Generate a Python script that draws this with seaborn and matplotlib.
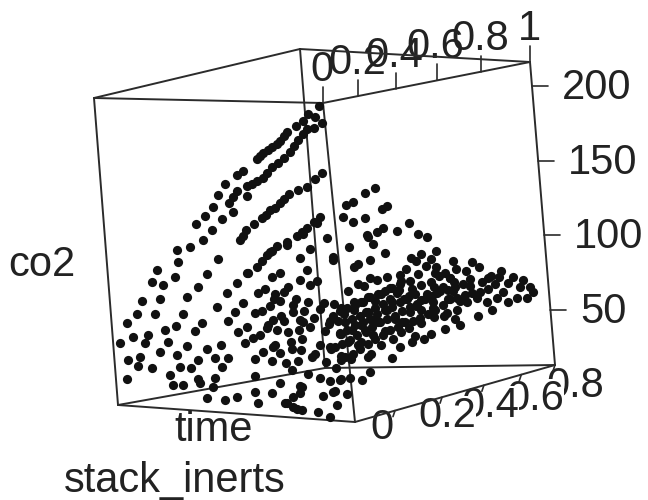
import numpy as np
import matplotlib
matplotlib.use("Agg")
import matplotlib.pyplot as plt
import pandas as pd
import seaborn as sns

# values, one pair of lists per level of the top axis
levels = [0, 0.12, 0.345, 0.647, 0.915, 1]

inerts_0 = [
    .52, .786, .694, .712, .813, .768, .574, .617, .397, .447, .494, .542,
    .862, .785, .668, .888, .811, .691, .43, .468, .5, .934, .913, .97,
    .848, .864, .774, .726, .613, .646, .686, .765, .803, .422, .463, .437,
    .54, .601, .57, .515, .644, .544, .732, .943, .89, .902, .843, .723,
    .677, .768, .76, .717, .651, .644, .578, .59, .619, .544, .492, .414,
    .405, .408, .341, .954, .29, .24, .222, .153, .105, .304, .219,
    .211, .253, .281, .258, .22, .126,
    .017, .069, .097, .169, .203, .24, .283, .312, .013, .08, .127, .165,
    .224, .272, .319, .365, .37, .376, .405, .46, .496, .43, .437, .489,
    .561, .6, .536, .578, .637, .694,
    .034, .105, .186, .232, .278, .312, .386, .42, .063, .122, .169, .262, .308,
    .382, .35, .314, .27, .215, .297, .401, .338, .295, .249, .192, .152,
    .363, .401, .329, .291, .238, .192, .308, .156, .217, .247, .091, .118,
    .025, .076, .08, .181,
    .295, .215, .143, .078, .042, .167, .12, .354, .401, .143, .295, .259,
    .23, .177, .103, .025, .135,
    .04, .13, .186, .22, .262, .298,
    .05, .1, .146, .194, .248, .295, .342,
    .41, .45, .52,
    .07, .145, .21, .255, .295, .35, .405,
    .09, .145, .215, .285, .33,
    .36, .33, .29, .25, .2, .15, .1, .05, .31, .27, .22, .17, .13, .07, .04,
    .24, .2, .14, .1, .06, .03, .32, .37, .27, .18, .13, .09, .04, .2, .26, .33,
]
co2_0 = [
    113, 104, 110, 100, 96, 94, 103, 94, 105, 98, 91, 82,
    83, 85, 87, 74, 75, 76, 85, 79, 73, 68, 59, 54,
    61, 55, 65, 68, 71, 65, 55, 57, 50, 70, 66, 59,
    57, 54, 48, 49, 46, 43, 49, 43, 46, 40, 39, 41,
    41, 35, 29, 29, 34, 31, 35, 29, 22, 21, 24, 28,
    21, 38, 28, 31, 22, 19, 29, 18, 15, 35, 34,
    33, 26, 22, 20, 18, 28,
    214, 209, 204, 197, 191, 187, 183, 179, 203, 199, 192, 184,
    177, 170, 165, 161, 155, 171, 168, 162, 155, 154, 144, 139,
    141, 135, 132, 125, 120, 118,
    171, 162, 157, 151, 146, 141, 133, 126, 143, 136, 130, 123, 117,
    79, 81, 84, 88, 86, 89, 63, 70, 69, 68, 76, 72,
    54, 49, 49, 54, 57, 64, 59, 53, 50, 44, 70, 61,
    69, 60, 88, 75,
    119, 124, 132, 139, 130, 116, 122, 109, 105, 109, 103, 106,
    97, 102, 102, 116, 99,
    207, 201, 194, 189, 185, 181,
    200, 196, 188, 180, 174, 167, 163,
    158, 150, 147,
    167, 160, 154, 148, 143, 137, 129,
    140, 133, 126, 120, 113,
    92, 95, 92, 94, 90, 88, 84, 80, 75, 78, 81, 82, 78, 75, 88,
    62, 57, 55, 50, 47, 55, 58, 65, 48, 42, 40, 38, 40, 70, 75, 72,
]

inerts_1 = [.157, .111, .17, .135, .09, .04, .004, .158]
co2_1 = [19, 26, 27, 35, 37, 36, 41, 28]

inerts_2 = [
    .084, .128, .186, .218, .234, .138, .192, .038, .063, .008, .067, .136,
    .22, .114, .067, .134, .189, .243, .197, .14, .068, .008, .223, .191,
    .128, .056, .166, .081, .127, .2, .295, .287, .067, .123, .078, .169,
    .207, .255, .336, .04, .182, .143, .222, .298, .183, .261, .207, .136,
    .092, .111, .172, .293, .174,
    .1, .16, .22, .27, .06, .03, .1, .15, .24, .28, .05, .03,
]
co2_2 = [
    153, 149, 143, 141, 133, 133, 130, 141, 139, 125, 127, 122,
    114, 116, 111, 106, 103, 85, 90, 94, 95, 93, 73, 78,
    79, 79, 72, 74, 66, 63, 65, 57, 55, 51, 43, 45,
    52, 41, 47, 50, 59, 67, 50, 40, 43, 52, 101, 121,
    124, 93, 89, 107, 72,
    84, 82, 78, 70, 88, 85, 60, 57, 60, 74, 68, 60,
]

inerts_3 = [
    .22, .187, .149, .116, .224, .18, .141, .249, .2, .122, .046, .033,
    .113, .149, .191, .234, .289, .064, .096, .056, .25, .197, .148, .046,
    .089, .149, .205, .261, .288, .039, .104, .168, .199, .254, .239,
    .205, .165, .125, .085, .05, .17, .22, .125, .08, .03, .25, .2, .15, .105, .06, .27, .24, .28,
]
co2_3 = [
    120, 113, 111, 102, 97, 100, 97, 90, 87, 92, 96, 91,
    86, 82, 80, 77, 76, 85, 79, 76, 72, 70, 69, 64,
    62, 59, 55, 51, 55, 54, 51, 48, 44, 42, 46,
    95, 92, 88, 88, 82, 74, 66, 75, 71, 70, 62, 63, 65, 60, 58, 70, 82, 86,
]

inerts_4 = [.23, .202, .262, .109, .152, .195, .251]
co2_4 = [85, 82, 79, 79, 76, 72, 69]

inerts_5 = [
    .081, .07, .097, .124, .141, .175, .2, .182, .228, .254, .317, .274,
    .315, .361, .232, .3, .366, .433, .502, .57, .637, .704, .773, .841, .91,
    .339, .407, .474, .542, .61, .678, .746, .813, .883, .95,
    .426, .583, .652, .72, .787, .855, .923,
    .694, .762, .83, .898, .645, .713, .78, .848, .916, .962,
    .266, .333, .4, .467, .536, .603, .67, .738, .807, .875,
    .373, .44, .508, .576, .644, .712, .78, .848, .916,
    .5, .62, .686, .754, .82, .89,
    .728, .796, .864, .68, .746, .814, .882,
    .11, .15, .21, .26,
]
co2_5 = [
    65, 62, 58, 65, 58, 68, 62, 55, 58, 50, 46, 55,
    58, 55, 67, 62, 60, 57, 50, 45, 42, 37, 31, 25, 20,
    70, 65, 62, 57, 52, 46, 42, 37, 31, 26,
    71, 60, 55, 50, 44, 40, 35,
    57, 51, 46, 42, 67, 62, 58, 53, 49, 43,
    64, 61, 58, 53, 47, 43, 39, 34, 28, 22,
    67, 63, 59, 54, 49, 44, 39, 34, 28,
    65, 57, 52, 47, 42, 37,
    54, 48, 44, 64, 60, 55, 51,
    70, 72, 72, 71,
]

time_ticks = [0, 0.2, 0.4, 0.6, 0.8, 1]
time_labels = ["0", "0.2", "0.4", "0.6", "0.8", "1"]
bottom_ticks = [0, 0.2, 0.4, 0.6, 0.8]
bottom_labels = ["0", "0.2", "0.4", "0.6", "0.8"]
co2_ticks = [50, 100, 150, 200]

# pixel layout of the box: front-bottom, right-bottom, left-bottom, back-bottom and the same on top
P000, P100, P010, P110 = (355, 422), (555, 365), (118, 405), (325, 368)
P001, P101, P011, P111 = (323, 103), (530, 62), (94, 98), (300, 49)
Z_MIN, Z_MAX = 13, 216


def project(u, v, w):
    u, v, w = np.asarray(u, float), np.asarray(v, float), np.asarray(w, float)
    out = []
    for i in range(2):
        low = (1 - u) * (1 - v) * P000[i] + u * (1 - v) * P100[i] + (1 - u) * v * P010[i] + u * v * P110[i]
        high = (1 - u) * (1 - v) * P001[i] + u * (1 - v) * P101[i] + (1 - u) * v * P011[i] + u * v * P111[i]
        out.append(low * (1 - w) + high * w)
    return out


def warp_time(t):
    t = np.asarray(t, float)
    return t / (1.23 - 0.23 * t)


def warp_bottom(b):
    x = np.asarray(b, float) / 0.8
    return 0.2 + 0.8 * x / (0.8 + 0.2 * x)


def scale_co2(z):
    return (np.asarray(z, float) - Z_MIN) / (Z_MAX - Z_MIN)


inerts = [inerts_0, inerts_1, inerts_2, inerts_3, inerts_4, inerts_5]
co2 = [co2_0, co2_1, co2_2, co2_3, co2_4, co2_5]
frames = []
for level, i_vals, c_vals in zip(levels, inerts, co2):
    frames.append(pd.DataFrame({"time": level, "stack_inerts": i_vals, "co2": c_vals}))
df = pd.concat(frames, ignore_index=True)
df["px"], df["py"] = project(warp_time(df["time"]), df["stack_inerts"], scale_co2(df["co2"]))

sns.set_theme(style="white")
plt.rcParams["font.family"] = ["Liberation Sans", "DejaVu Sans"]

fig = plt.figure(figsize=(6.48, 5.0), dpi=100)
ax = fig.add_axes([0, 0, 1, 1])
ax.set_xlim(0, 648)
ax.set_ylim(500, 0)
ax.axis("off")

line_color = "#2b2b2b"
text_color = "#222222"
FS = 30

edges = [
    (P000, P100), (P100, P110), (P110, P010), (P010, P000),
    (P001, P101), (P101, P111), (P111, P011), (P011, P001),
    (P000, P001), (P100, P101), (P110, P111), (P010, P011),
]
for a, b in edges:
    ax.plot([a[0], b[0]], [a[1], b[1]], color=line_color, lw=1.4, zorder=3, solid_capstyle="round")

# top axis
tx, ty = project(warp_time(time_ticks), np.zeros(6), np.ones(6))
for x, y, lab in zip(tx, ty, time_labels):
    ax.plot([x, x], [y, y - 16], color=line_color, lw=1.2, zorder=3)
    ax.text(x - 1, y - 33, lab, fontsize=FS, color=text_color, ha="center", va="center", zorder=2)

# right axis
rx, ry = project(np.ones(4), np.zeros(4), scale_co2(co2_ticks))
for x, y, tick in zip(rx, ry, co2_ticks):
    ax.plot([x, x + 16], [y, y], color=line_color, lw=1.2, zorder=3)
    ax.text(x + 30, y + 2, str(tick), fontsize=FS, color=text_color, ha="left", va="center", zorder=2)

# bottom axis, labels drawn from right to left so each one masks the next
bx, by = project(warp_bottom(bottom_ticks), np.zeros(5), np.zeros(5))
label_dx = [-13, 5, 6, 14, 20]
label_dy = [17, 19, 21, 24, 21]
for k in range(4, -1, -1):
    ax.plot([bx[k], bx[k] - 2], [by[k], by[k] + 6], color=line_color, lw=1.2, zorder=3)
    ax.text(bx[k] + label_dx[k], by[k] + label_dy[k], bottom_labels[k], fontsize=FS, color=text_color,
            ha="center", va="center", zorder=1.5 + 0.1 * (4 - k),
            bbox=dict(facecolor="white", edgecolor="none", pad=0))

ax.text(42, 265, "co2", fontsize=FS, color=text_color, ha="center", va="center", zorder=5)
ax.text(214, 430, "time", fontsize=FS, color=text_color, ha="center", va="center", zorder=5)
ax.text(175, 481, "stack_inerts", fontsize=FS, color=text_color, ha="center", va="center", zorder=5)

sns.scatterplot(data=df, x="px", y="py", ax=ax, color="#111111", s=44, linewidth=0, legend=False, zorder=4)
ax.set_xlabel("")
ax.set_ylabel("")

fig.savefig("out.png", dpi=100)
plt.close(fig)
